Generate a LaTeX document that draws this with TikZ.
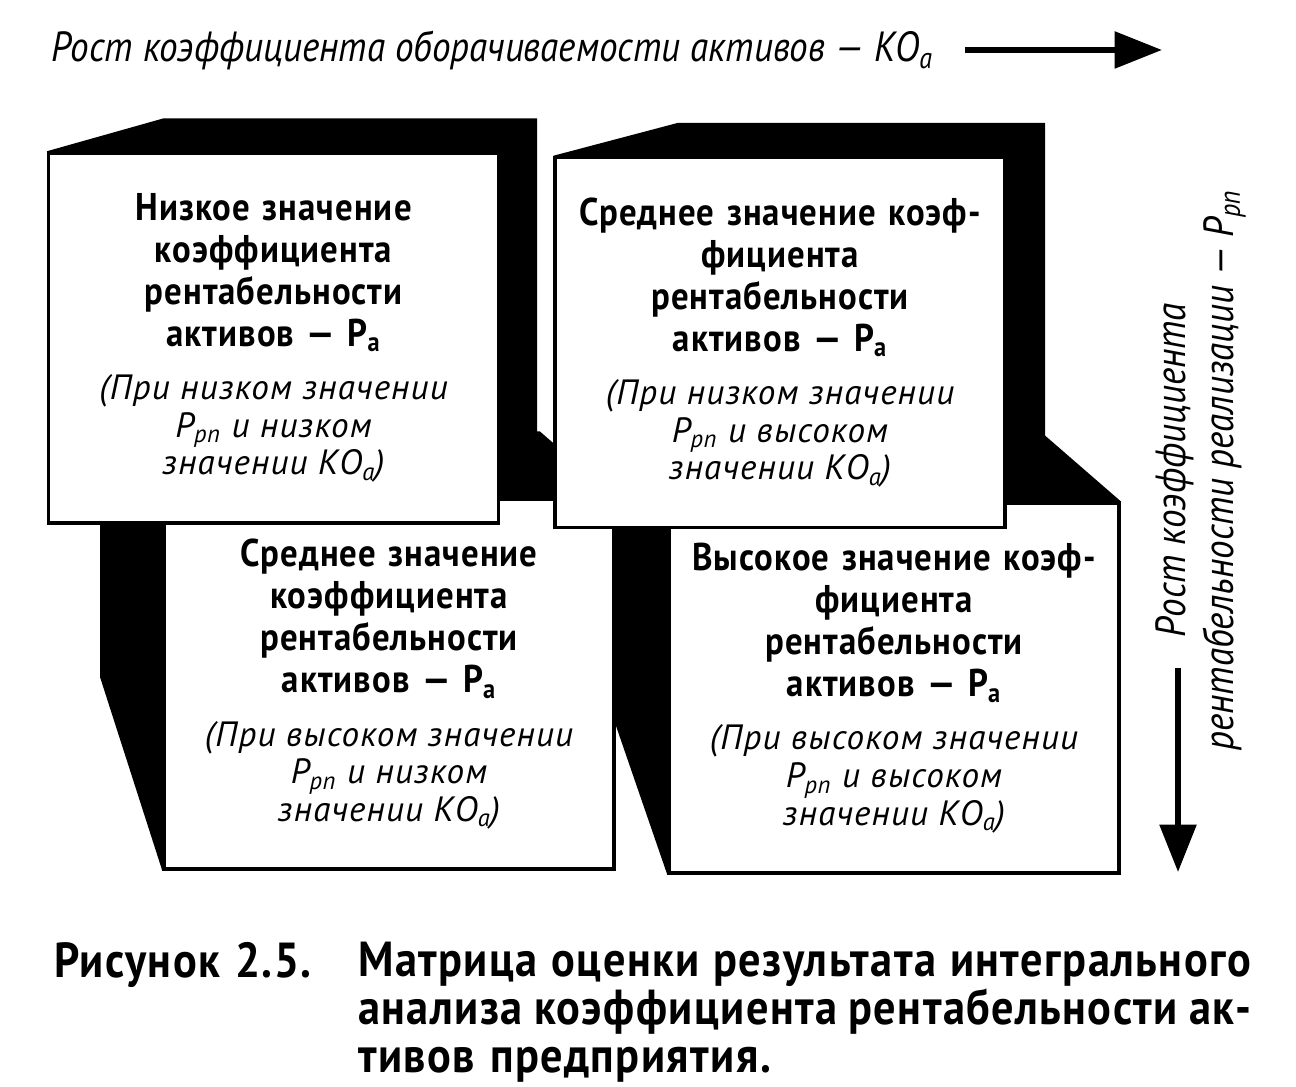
\documentclass[tikz,border=0pt]{standalone}
\usepackage{fontspec}
\setmainfont{PT Sans}
\newfontfamily\headfont[FakeStretch=0.9,LetterSpace=2.8]{PT Sans}
\newfontfamily\notefont[LetterSpace=3.3]{PT Sans}
\newfontfamily\axisfont[FakeStretch=0.88]{PT Sans}
\newfontfamily\capfont[FakeStretch=0.9,LetterSpace=3,WordSpace=1.2]{PT Sans}
\usetikzlibrary{arrows.meta,backgrounds}
\newcommand{\facehead}[1]{{\headfont\bfseries\fontsize{22}{23.9}\selectfont\spaceskip=0.32em\relax #1\\активов — Р\textsubscript{а}\par}}
\newcommand{\facenote}[2]{{\notefont\itshape\fontsize{20}{21.4}\selectfont\spaceskip=0.3em\relax\vspace{9pt}(При #1 значении\\Р\textsubscript{рп} и #2\\значении КО\textsubscript{а})\par}}
\tikzset{
  face/.style={draw,line width=2pt,fill=white,inner sep=0pt,text width=9cm,minimum height=7.4cm,align=center},
  sidefill/.style={fill=black},
  growth/.style={line width=3.4pt,-{Triangle[length=0.95cm,width=0.72cm]}},
  axislab/.style={font=\axisfont\itshape\fontsize{24}{27}\selectfont},
  caption/.style={font=\capfont\bfseries\fontsize{28}{27.3}\selectfont}
}
\begin{document}
\begin{tikzpicture}[x=0.02cm,y=-0.02cm]
\useasboundingbox (0,0) rectangle (1296,1087);

\node[axislab,anchor=base west] (ko) at (45,62) {Рост коэффициента оборачиваемости активов — КО\textsubscript{а}};
\coordinate (ko-s) at (965,50);
\coordinate (ko-e) at (1162,50);
\draw[growth] (ko-s) -- (ko-e);

\node[axislab,rotate=90,align=center] (rp) at (1201,470) {Рост коэффициента\\рентабельности реализации — Р\textsubscript{рп}};
\coordinate (rp-s) at (1178,668);
\coordinate (rp-e) at (1178,872);
\draw[growth] (rp-s) -- (rp-e);

\node[face] (midrp) at (389,684) {\facehead{Среднее значение\\коэффициента\\рентабельности}\facenote{высоком}{низком}};
\node[face] (high) at (894,688) {\facehead{Высокое значение коэф-\\фициента\\рентабельности}\facenote{высоком}{высоком}};
\node[face] (low) at (273.5,338) {\facehead{Низкое значение\\коэффициента\\рентабельности}\facenote{низком}{низком}};
\node[face] (midko) at (780,342.5) {\facehead{Среднее значение коэф-\\фициента\\рентабельности}\facenote{низком}{высоком}};

\begin{pgfonlayer}{background}
\fill[sidefill] (low.north west) -- ++(117,-33) -| (537,505) -- (low.south east) -- cycle;
\fill[sidefill] (midko.north west) -- ++(125,-33) -| (1045,505) -- (midko.south east) -- cycle;
\fill[sidefill] (midrp.north east) -- ++(-76,-66) -- (100,433) -- (100,677) -- (midrp.south west) -- cycle;
\fill[sidefill] (high.north east) -- ++(-76,-66) -- (615,437) -- (615,723) -- (high.south west) -- cycle;
\end{pgfonlayer}

\node[caption,anchor=base west] (fig) at (48,977) {Рисунок 2.5.};
\node[caption,anchor=base west,align=left] (cap) at (352,1072) {\makebox[17.86cm][s]{Матрица оценки результата интегрального}\\\makebox[17.86cm][s]{анализа коэффициента рентабельности ак-}\\тивов предприятия.};
\end{tikzpicture}
\end{document}
